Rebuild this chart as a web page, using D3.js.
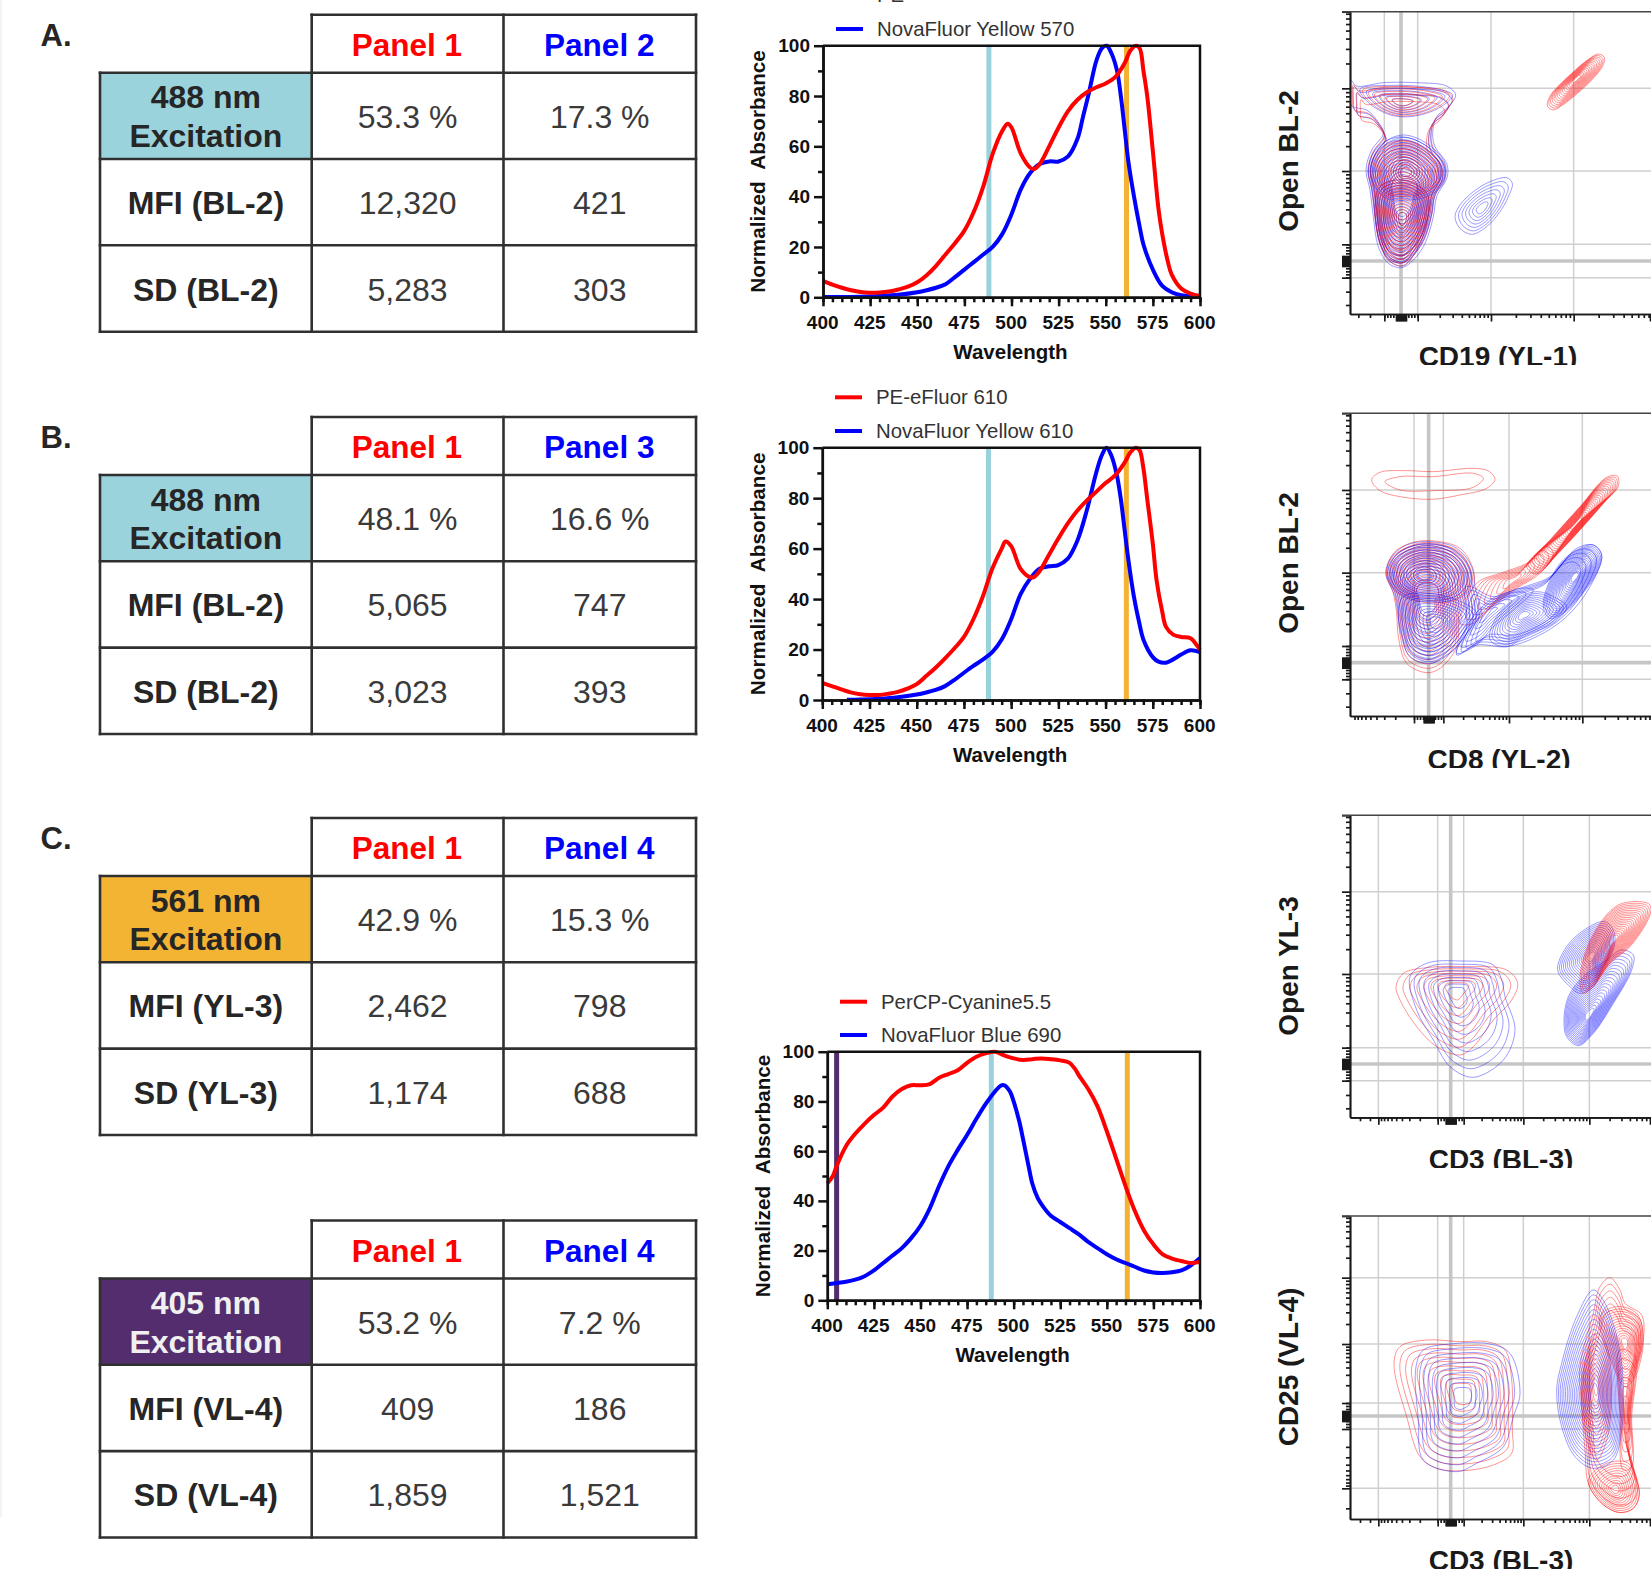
<!DOCTYPE html>
<html>
<head>
<meta charset="utf-8">
<script src="https://cdn.jsdelivr.net/npm/d3@7"></script>
<style>
  html, body { margin: 0; padding: 0; background: #fff; }
  svg { display: block; font-family: "Liberation Sans", Arial, sans-serif; }
</style>
</head>
<body>
<div id="chart"></div>
<script>
// Table contents
const tableLetters = ["A.", "B.", "C.", ""];
const tablePanels = [["Panel 1", "Panel 2"], ["Panel 1", "Panel 3"], ["Panel 1", "Panel 4"], ["Panel 1", "Panel 4"]];
const tableLasers = ["488 nm", "488 nm", "561 nm", "405 nm"];
const tableChannels = ["BL-2", "BL-2", "YL-3", "VL-4"];
const tablePercent = [["53.3 %", "17.3 %"], ["48.1 %", "16.6 %"], ["42.9 %", "15.3 %"], ["53.2 %", "7.2 %"]];
const tableMfi = [["12,320", "421"], ["5,065", "747"], ["2,462", "798"], ["409", "186"]];
const tableSd = [["5,283", "303"], ["3,023", "393"], ["1,174", "688"], ["1,859", "1,521"]];

// Absorbance spectra: wavelength + value arrays
const peWave = [400,405,410,415,420,425,430,435,440,445,450,455,460,465,470,475,480,485,490,495,498,500,505,510,512,515,520,525,530,535,540,545,550,555,560,563,566,568,570,572,575,578,580,583,585,590,595,600];
const peAbs = [6.5,5,3.8,2.8,2.1,1.8,1.9,2.3,3.1,4.2,6,8.8,12.5,17,21.5,26.5,34,44,57,66,69,67.5,57,51.5,51,53,60,67.5,74,78.5,81.5,83.5,85,87.5,93,98,100,99,90,80,58,35,25,14,9,3.5,1.5,0.5];
const nova570Wave = [400,420,430,440,450,455,460,465,470,475,480,485,490,495,500,505,510,515,520,525,530,535,538,541,545,548,550.5,553,556,558,560,562,565,568,570,575,580,585,590,595,600];
const nova570Abs = [0.1,0.2,0.5,1,2,2.8,3.8,5.2,8,11,14,17,20,25,33,43,49.5,53,54,54,56,63,72,81,94,99,100,97,90,80,67,54,40,28,21,11,4.5,2,0.8,0.3,0.1];

const pe610Wave = [400,405,410,415,420,425,430,435,440,445,450,455,460,465,470,475,480,485,490,495,497,500,505,510,512,515,520,525,530,535,540,545,550,555,560,563,566,568,570,572,575,577,580,582,586,590,595,598,600];
const pe610Abs = [6.8,5.5,4.2,3,2.3,2,2,2.5,3.2,4.5,6.3,9.5,12.8,16.5,20.5,25,32,41,52,60,62.8,61,52,48.7,48.7,51,57.5,64,70,75,79,82.5,86,89,94,98,100,99,92,80,62,47.5,35,29,25.8,25,24.5,22,20];
const nova610Wave = [413,420,430,440,450,455,460,465,470,475,480,485,490,495,500,505,510,515,520,525,530,535,540,545,548,550.5,553,556,558,560,562,565,568,570,575,578,582,586,590,595,600];
const nova610Abs = [0.1,0.2,0.5,1.1,2.2,3,4,5.5,8,10.8,13.5,16,19,24,32,42,48,52,53,53.5,56,63,75,90,97,100,97,89,80,68,56,41,30,24,17,15.2,14.8,16.2,18,19.7,19];

const percpWave = [400,403,405,410,415,420,425,430,435,440,445,450,455,460,465,470,475,480,485,490,495,500,505,510,515,520,525,530,533,535,540,545,550,555,560,565,570,575,580,585,590,595,600];
const percpAbs = [47,50,54,62,67,71,74.5,77.5,82,85,86.5,86.5,87,89.5,91,92.5,95.5,98,99.3,100,98.5,97.3,96.7,97,97.3,97,96.5,95.5,93,90.5,85,78,68,57,46,36,28,22.5,18.5,16.8,15.8,15,15.5];
const nova690Wave = [400,410,415,420,425,430,435,440,445,450,455,460,465,470,475,480,485,490,493,495,498,500,503,505,508,510,513,516,520,525,530,535,540,545,550,555,560,565,570,575,580,585,590,595,600];
const nova690Abs = [6.5,7.5,8.3,9.7,12,15,18,21,25,30,37,46,54,60.5,66.5,73,79,84,86.3,86.5,84,80,72,65,54,47,41,37.5,34,31.5,29,26.5,23.5,21,18.5,16.5,15,13.5,12,11.2,11,11.3,12,14,17];

const laserLines = [488, 561, 405];
const laserColors = ["#9ad2dc", "#f3b233", "#532d6d"];
const wavelengthTicks = d3.range(400, 601, 25);
const wavelengthMinor = d3.range(400, 601, 5);
const absorbanceTicks = d3.range(0, 101, 20);
const absorbanceMinor = d3.range(10, 100, 20);

// Flow plot outer outlines, in channel units of each plot's own scale
const aRedDiag = [[862,318],[870,288],[895,258],[935,220],[982,180],[1015,162],[1033,172],[1028,198],[995,240],[950,282],[908,315],[880,330]];
const aBlueSide = [[585,650],[600,615],[640,575],[690,545],[740,533],[757,550],[745,590],[720,635],[680,680],[635,703],[600,685]];
const aSilhouette = [[272,240],[290,258],[370,248],[470,248],[560,258],[587,285],[565,320],[530,350],[518,400],[525,440],[560,490],[562,530],[530,590],[520,650],[495,730],[460,780],[425,803],[385,790],[355,740],[340,650],[330,570],[318,510],[335,450],[370,400],[350,360],[320,330],[275,318],[270,280]];
const aTopBand = [[300,268],[400,256],[520,265],[578,285],[540,322],[470,347],[400,347],[330,312]];
const aBody = [[318,510],[335,450],[380,410],[430,400],[490,420],[555,480],[562,530],[530,590],[520,650],[495,730],[460,780],[425,803],[385,790],[355,740],[340,650],[330,570]];
const aBodyUpper = [[330,510],[370,430],[430,405],[500,430],[555,490],[550,550],[500,590],[440,600],[370,590]];
const aBodyLower = [[345,620],[360,560],[430,540],[500,580],[505,640],[480,730],[430,797],[385,780],[355,710]];

const bBandOuter = [[335,240],[360,217],[440,212],[520,215],[640,205],[685,213],[705,238],[680,265],[600,285],[515,298],[420,290],[360,272]];
const bBandInner = [[375,245],[420,230],[520,230],[640,220],[670,235],[640,262],[520,272],[420,270]];
const bRedDiag = [[800,500],[870,420],[960,320],[1040,232],[1072,228],[1075,258],[1035,305],[960,390],[890,465],[830,522]];
const bRedTail = [[650,550],[720,520],[800,490],[860,440],[880,460],[840,520],[770,565],[690,625],[640,670],[600,670]];
const bBlueRight = [[870,540],[910,480],[960,445],[1000,435],[1025,465],[1010,520],[960,590],[910,640],[870,655],[850,620]];
const bBlueMid = [[710,650],[760,600],[830,575],[880,590],[920,620],[880,670],[800,705],[740,740],[690,720]];
const bBlueEnvelope = [[590,765],[650,735],[740,740],[830,710],[920,650],[990,560],[1025,465],[1000,435],[950,445],[870,530],[780,565],[690,600],[620,680]];
const bMainUpper = [[377,520],[395,470],[440,440],[500,425],[570,440],[620,480],[640,540],[610,590],[540,610],[450,600],[400,570]];
const bBlueMain = [[377,520],[395,470],[440,435],[510,425],[590,445],[635,500],[645,560],[660,640],[620,700],[580,750],[510,785],[450,760],[420,680],[405,590]];
const bRedMain = [[380,520],[400,460],[450,430],[510,422],[600,445],[640,510],[640,560],[600,620],[590,740],[540,805],[500,818],[440,790],[415,710],[410,640],[400,580]];
const bMainLower = [[415,640],[430,590],[500,580],[590,600],[650,640],[620,700],[570,760],[510,790],[450,770],[425,710]];
const bBlueJoin = [[620,560],[700,590],[780,565],[820,570],[760,630],[700,680],[650,735],[590,760],[620,680]];

const cRedLeft = [[408,560],[430,520],[500,503],[620,500],[740,510],[773,550],[755,600],[700,660],[640,740],[600,765],[530,740],[470,680],[420,600]];
const cBlueLeft = [[450,530],[500,490],[600,483],[700,495],[725,540],[735,590],[765,690],[730,780],[640,832],[570,800],[520,720],[470,630]];
const cBlueUpper = [[893,510],[920,440],[980,385],[1035,365],[1062,395],[1060,450],[1030,500],[1000,560],[960,580],[930,560]];
const cBlueLower = [[912,660],[925,590],[970,530],[1040,480],[1085,450],[1120,465],[1115,510],[1060,610],[1000,700],[955,737],[920,710]];
const cRedRight = [[960,545],[975,460],[1020,370],[1075,315],[1140,305],[1170,315],[1170,345],[1110,440],[1050,490],[1000,560],[970,580]];

const dRedLeft = [[402,490],[420,440],[500,420],[600,425],[680,425],[735,450],[755,540],[757,690],[755,760],[700,795],[610,812],[530,805],[480,770],[440,650]];
const dBlueLeft = [[468,500],[490,450],[570,432],[690,432],[750,460],[780,580],[760,650],[730,740],[650,790],[590,815],[490,780],[475,660]];
const dBlueRight = [[890,570],[905,490],[950,350],[1000,270],[1035,310],[1075,430],[1090,560],[1085,690],[1060,780],[1000,805],[945,770],[905,680]];
const dRedRight = [[960,500],[1000,340],[1020,260],[1050,233],[1080,270],[1095,310],[1145,345],[1150,420],[1125,520],[1110,650],[1110,780],[1138,880],[1120,925],[1075,937],[1020,905],[985,850],[975,750],[965,620]];
const dRedUpper = [[1020,350],[1070,320],[1130,340],[1150,420],[1125,530],[1095,560],[1060,500]];
const dRedSide = [[1080,450],[1125,470],[1115,650],[1115,800],[1090,810],[1080,650]];
const dRedBottom = [[985,840],[1040,790],[1105,790],[1138,880],[1120,925],[1075,937],[1020,905]];
const dRedCore = [[965,560],[990,430],[1010,400],[1040,440],[1055,560],[1040,720],[1010,780],[980,720]];

// Tick helper for the log stretches of the flow axes
function logTicks(a, b) {
  return d3.range(2, 10).map(k => a + (b - a) * Math.log10(k));
}

const width = 1651, height = 1572;
const RED = "#ff0000", BLUE = "#1414ff";

const svg = d3.select("#chart").append("svg")
  .attr("width", width)
  .attr("height", height)
  .attr("viewBox", `0 0 ${width} ${height}`);

// faint stripe along the left edge of the figure
svg.append("rect").attr("x", 0).attr("y", 0).attr("width", 2).attr("height", 1517).attr("fill", "#f3f3f3");

// ---- tables ----
const tableX = [100, 311.7, 503.5, 696];
const tableTops = [14.7, 417, 818, 1220.5];
const laserFill = ["#9bd3dd", "#9bd3dd", "#f3b434", "#532d6d"];
const laserText = ["#262626", "#262626", "#262626", "#f0f0f0"];

function drawTable(i) {
  const g = svg.append("g").attr("class", "table");
  const top = tableTops[i];
  const rowY = [top, top + 58, top + 144.3, top + 230.6, top + 317];
  const ink = "#303030";

  g.append("rect").attr("x", tableX[0]).attr("y", rowY[1])
    .attr("width", tableX[1] - tableX[0]).attr("height", rowY[2] - rowY[1])
    .attr("fill", laserFill[i]);

  // grid lines
  const lines = [
    [tableX[1], rowY[0], tableX[3], rowY[0]],
    [tableX[0], rowY[1], tableX[3], rowY[1]],
    [tableX[0], rowY[2], tableX[3], rowY[2]],
    [tableX[0], rowY[3], tableX[3], rowY[3]],
    [tableX[0], rowY[4], tableX[3], rowY[4]],
    [tableX[0], rowY[1], tableX[0], rowY[4]],
    [tableX[1], rowY[0], tableX[1], rowY[4]],
    [tableX[2], rowY[0], tableX[2], rowY[4]],
    [tableX[3], rowY[0], tableX[3], rowY[4]]
  ];
  g.selectAll("line").data(lines).enter().append("line")
    .attr("x1", d => d[0]).attr("y1", d => d[1])
    .attr("x2", d => d[2]).attr("y2", d => d[3])
    .attr("stroke", ink).attr("stroke-width", 2.6).attr("stroke-linecap", "square");

  const cell = (txt, cx, cy, bold, fill, size) => g.append("text")
    .attr("x", cx).attr("y", cy + 12)
    .attr("text-anchor", "middle")
    .attr("font-size", size || 32)
    .attr("font-weight", bold ? "bold" : "normal")
    .attr("fill", fill)
    .text(txt);

  const mid0 = (tableX[0] + tableX[1]) / 2;
  const mid1 = (tableX[1] + tableX[2]) / 2;
  const mid2 = (tableX[2] + tableX[3]) / 2;
  const rowMid = k => (rowY[k] + rowY[k + 1]) / 2;

  cell(tablePanels[i][0], mid1 - 0.8, rowMid(0), true, RED, 31.5);
  cell(tablePanels[i][1], mid2 - 0.5, rowMid(0), true, "#0000ff", 31.5);
  cell(tableLasers[i], mid0, rowMid(1) - 19.5, true, laserText[i]);
  cell("Excitation", mid0, rowMid(1) + 19, true, laserText[i]);
  cell(`MFI (${tableChannels[i]})`, mid0, rowMid(2), true, "#262626");
  cell(`SD (${tableChannels[i]})`, mid0, rowMid(3), true, "#262626");
  [tablePercent[i], tableMfi[i], tableSd[i]].forEach((vals, k) => {
    cell(vals[0], mid1, rowMid(k + 1), false, "#3a3a3a");
    cell(vals[1], mid2, rowMid(k + 1), false, "#3a3a3a");
  });

  if (tableLetters[i]) {
    g.append("text").attr("x", 40.5).attr("y", top + 31)
      .attr("font-size", 31).attr("font-weight", "bold").attr("fill", "#262626")
      .text(tableLetters[i]);
  }
}
tableLetters.forEach((d, i) => drawTable(i));

// ---- absorbance charts ----
function drawSpectrum(cfg) {
  const x = d3.scaleLinear().domain([400, 600]).range([cfg.left, cfg.right]);
  const y = d3.scaleLinear().domain([0, 100]).range([cfg.bottom, cfg.top]);
  const g = svg.append("g").attr("class", "spectrum");

  g.selectAll(".laser").data(cfg.lasers).enter().append("rect")
    .attr("class", "laser")
    .attr("x", d => x(laserLines[d]) - 2.5)
    .attr("y", cfg.top)
    .attr("width", 5)
    .attr("height", cfg.bottom - cfg.top)
    .attr("fill", d => laserColors[d]);

  const line = d3.line().curve(d3.curveCatmullRom.alpha(0.5)).x(d => x(d[0])).y(d => y(d[1]));
  cfg.series.forEach(s => {
    g.append("path")
      .attr("d", line(d3.zip(s.wave, s.abs)))
      .attr("fill", "none")
      .attr("stroke", s.color === "red" ? RED : "#0000ff")
      .attr("stroke-width", 4);
  });

  // frame top/right
  g.append("path")
    .attr("d", d3.line()([[x(400), y(100)], [x(600), y(100)], [x(600), y(0)]]))
    .attr("fill", "none").attr("stroke", "#111").attr("stroke-width", 2.5);

  const styleAxis = sel => {
    sel.selectAll("path,line").attr("stroke", "#111").attr("stroke-width", 2.5);
    sel.selectAll("text").attr("font-size", 19).attr("font-weight", "bold")
      .attr("font-family", "Liberation Sans").attr("fill", "#111");
  };

  g.append("g").attr("transform", `translate(0,${cfg.bottom})`)
    .call(d3.axisBottom(x).tickValues(wavelengthMinor).tickSize(5).tickSizeOuter(0).tickFormat(""))
    .call(styleAxis);
  g.append("g").attr("transform", `translate(0,${cfg.bottom})`)
    .call(d3.axisBottom(x).tickValues(wavelengthTicks).tickSize(9).tickSizeOuter(0).tickPadding(9.5).tickFormat(d3.format("d")))
    .call(styleAxis)
    .selectAll("text").attr("dx", -0.8);
  g.append("g").attr("transform", `translate(${cfg.left},0)`)
    .call(d3.axisLeft(y).tickValues(absorbanceMinor).tickSize(5).tickSizeOuter(0).tickFormat(""))
    .call(styleAxis);
  g.append("g").attr("transform", `translate(${cfg.left},0)`)
    .call(d3.axisLeft(y).tickValues(absorbanceTicks).tickSize(9).tickSizeOuter(0).tickPadding(4).tickFormat(d3.format("d")))
    .call(styleAxis);

  g.append("text")
    .attr("x", (cfg.left + cfg.right) / 2 - 1)
    .attr("y", cfg.bottom + 62)
    .attr("text-anchor", "middle")
    .attr("font-size", 20.5).attr("font-weight", "bold").attr("fill", "#111")
    .text("Wavelength");

  g.append("text")
    .attr("transform", `translate(${cfg.titleX},${(cfg.top + cfg.bottom) / 2}) rotate(-90)`)
    .attr("text-anchor", "middle")
    .attr("font-size", 20.7).attr("font-weight", "bold").attr("fill", "#111")
    .text("Normalized\u00a0\u00a0Absorbance");

  // legend
  cfg.legend.forEach(l => {
    g.append("line")
      .attr("x1", cfg.legendX).attr("x2", cfg.legendX + 27)
      .attr("y1", l.y).attr("y2", l.y)
      .attr("stroke", l.color === "red" ? RED : "#0000ff").attr("stroke-width", 4);
    g.append("text")
      .attr("x", cfg.legendX + 41).attr("y", l.y + 7)
      .attr("font-size", 20.4).attr("fill", "#333")
      .text(l.name);
  });
}

drawSpectrum({
  left: 823, right: 1200, top: 45.7, bottom: 297.3, titleX: 765, legendX: 836,
  lasers: [0, 1],
  series: [{ wave: nova570Wave, abs: nova570Abs, color: "blue" }, { wave: peWave, abs: peAbs, color: "red" }],
  legend: [{ name: "PE", color: "red", y: -5 }, { name: "NovaFluor Yellow 570", color: "blue", y: 29 }]
});
drawSpectrum({
  left: 822.3, right: 1200, top: 447.7, bottom: 700, titleX: 765, legendX: 835,
  lasers: [0, 1],
  series: [{ wave: nova610Wave, abs: nova610Abs, color: "blue" }, { wave: pe610Wave, abs: pe610Abs, color: "red" }],
  legend: [{ name: "PE-eFluor 610", color: "red", y: 397.3 }, { name: "NovaFluor Yellow 610", color: "blue", y: 431 }]
});
drawSpectrum({
  left: 827.3, right: 1200, top: 1051.7, bottom: 1300.3, titleX: 770, legendX: 840,
  lasers: [0, 1, 2],
  series: [{ wave: nova690Wave, abs: nova690Abs, color: "blue" }, { wave: percpWave, abs: percpAbs, color: "red" }],
  legend: [{ name: "PerCP-Cyanine5.5", color: "red", y: 1001.7 }, { name: "NovaFluor Blue 690", color: "blue", y: 1035 }]
});

// ---- flow contour plots ----
function drawFlow(cfg, idx) {
  const x = d3.scaleLinear().domain([270, 1173]).range([1350, 1651]);
  const y = d3.scaleLinear().domain(cfg.yDomain).range([cfg.top, cfg.bottom]);
  const g = svg.append("g").attr("class", "flow");

  const clipId = "flow-clip-" + idx;
  g.append("clipPath").attr("id", clipId).append("rect")
    .attr("x", 1350).attr("y", cfg.top).attr("width", 301).attr("height", cfg.bottom - cfg.top);

  // grid
  const grid = g.append("g");
  grid.selectAll(".gx").data(cfg.gridX).enter().append("line")
    .attr("x1", d => x(d)).attr("x2", d => x(d)).attr("y1", cfg.top).attr("y2", cfg.bottom)
    .attr("stroke", "#cfcfcf").attr("stroke-width", 1.5);
  grid.selectAll(".gy").data(cfg.gridY).enter().append("line")
    .attr("y1", d => y(d)).attr("y2", d => y(d)).attr("x1", 1350).attr("x2", 1651)
    .attr("stroke", "#cfcfcf").attr("stroke-width", 1.5);
  grid.append("line").attr("x1", x(cfg.zeroX)).attr("x2", x(cfg.zeroX)).attr("y1", cfg.top).attr("y2", cfg.bottom)
    .attr("stroke", "#c6c6c6").attr("stroke-width", 3.6);
  grid.append("line").attr("y1", y(cfg.zeroY)).attr("y2", y(cfg.zeroY)).attr("x1", 1350).attr("x2", 1651)
    .attr("stroke", "#c6c6c6").attr("stroke-width", 3.6);

  // contours: each family is an outline drawn at decreasing levels toward its centre
  const ring = d3.line().curve(d3.curveCatmullRomClosed).x(d => x(d[0])).y(d => y(d[1]));
  const contours = g.append("g").attr("clip-path", `url(#${clipId})`).attr("fill", "none");
  cfg.families.forEach(f => {
    const centre = f.centre || [d3.mean(f.outline, d => d[0]), d3.mean(f.outline, d => d[1])];
    const start = f.start || 1;
    const levels = f.rings || 1;
    const depth = f.depth || 0.92;
    d3.range(levels).forEach(k => {
      const s = start * (1 - k / levels * depth);
      contours.append("path")
        .attr("d", ring(f.outline.map(p => [centre[0] + (p[0] - centre[0]) * s, centre[1] + (p[1] - centre[1]) * s])))
        .attr("stroke", f.color === "red" ? RED : BLUE)
        .attr("stroke-width", 1)
        .attr("stroke-opacity", 0.42);
    });
  });

  // frame and ticks
  const styleAxis = sel => {
    sel.selectAll("path,line").attr("stroke", "#1a1a1a").attr("stroke-width", 1.7);
  };
  const inX = v => v >= 270 && v <= 1173;
  const inY = v => v >= cfg.yDomain[0] && v <= cfg.yDomain[1];
  const blobX = d3.range(cfg.zeroX - 15, cfg.zeroX + 16, 3);
  const blobY = d3.range(cfg.zeroY - 15, cfg.zeroY + 16, 3);
  g.append("g").attr("transform", `translate(0,${cfg.bottom})`)
    .call(d3.axisBottom(x).tickValues(cfg.minorX.filter(inX)).tickSize(4).tickSizeOuter(0).tickFormat(""))
    .call(styleAxis);
  g.append("g").attr("transform", `translate(0,${cfg.bottom})`)
    .call(d3.axisBottom(x).tickValues(cfg.majorX.concat(blobX)).tickSize(7.5).tickSizeOuter(0).tickFormat(""))
    .call(styleAxis);
  g.append("g").attr("transform", "translate(1350,0)")
    .call(d3.axisLeft(y).tickValues(cfg.minorY.filter(inY)).tickSize(4).tickSizeOuter(0).tickFormat(""))
    .call(styleAxis);
  g.append("g").attr("transform", "translate(1350,0)")
    .call(d3.axisLeft(y).tickValues(cfg.majorY.concat(blobY)).tickSize(8).tickSizeOuter(0).tickFormat(""))
    .call(styleAxis);
  g.append("line").attr("x1", 1342).attr("x2", 1651).attr("y1", cfg.top).attr("y2", cfg.top)
    .attr("stroke", "#444").attr("stroke-width", 1.5);

  // labels
  g.append("text")
    .attr("transform", `translate(1298,${cfg.yLabelY}) rotate(-90)`)
    .attr("text-anchor", "middle")
    .attr("font-size", 28).attr("font-weight", "bold").attr("fill", "#1a1a1a")
    .text(cfg.yLabel);

  const labelClip = "flow-label-clip-" + idx;
  g.append("clipPath").attr("id", labelClip).append("rect")
    .attr("x", 1380).attr("y", cfg.labelClip - 40).attr("width", 240).attr("height", 41);
  g.append("text")
    .attr("clip-path", `url(#${labelClip})`)
    .attr("x", cfg.xLabelX).attr("y", cfg.labelClip + 2)
    .attr("text-anchor", "middle")
    .attr("font-size", 28).attr("font-weight", "bold").attr("fill", "#1a1a1a")
    .text(cfg.xLabel);
}

drawFlow({
  top: 11.7, bottom: 314, yDomain: [35, 942],
  gridX: [373, 473, 693, 941], zeroX: 423,
  gridY: [265, 513, 733, 833], zeroY: 783,
  majorX: [373, 473, 693, 941, 1170],
  minorX: [295, 330].concat(d3.range(373, 474, 9), logTicks(473, 693), logTicks(693, 941), logTicks(941, 1190)),
  majorY: [35, 265, 513, 733, 833],
  minorY: logTicks(265, 17).concat(logTicks(513, 265), logTicks(733, 513), d3.range(733, 834, 9), [875, 915]),
  yLabel: "Open BL-2", yLabelY: 161, xLabel: "CD19 (YL-1)", xLabelX: 1498, labelClip: 364,
  families: [
    { outline: aSilhouette, centre: [425, 530], color: "blue", rings: 3, depth: 0.2 },
    { outline: aSilhouette, centre: [425, 530], color: "red", rings: 3, depth: 0.24, start: 0.95 },
    { outline: aTopBand, centre: [425, 308], color: "blue", rings: 6 },
    { outline: aTopBand, centre: [425, 308], color: "red", rings: 6, start: 0.94 },
    { outline: aBody, centre: [430, 580], color: "blue", rings: 14, depth: 0.72, start: 0.94 },
    { outline: aBody, centre: [430, 590], color: "red", rings: 10, depth: 0.7, start: 0.88 },
    { outline: aBodyUpper, centre: [437, 518], color: "blue", rings: 14 },
    { outline: aBodyUpper, centre: [437, 518], color: "red", rings: 11, start: 0.85 },
    { outline: aBodyLower, centre: [428, 655], color: "blue", rings: 12 },
    { outline: aBodyLower, centre: [428, 655], color: "red", rings: 13 },
    { outline: aBlueSide, centre: [665, 625], color: "blue", rings: 7 },
    { outline: aRedDiag, centre: [950, 235], color: "red", rings: 16 }
  ]
}, 0);

drawFlow({
  top: 413.3, bottom: 716, yDomain: [40, 948],
  gridX: [462, 550, 747, 967], zeroX: 506,
  gridY: [270, 518, 738, 838], zeroY: 788,
  majorX: [462, 550, 747, 967],
  minorX: logTicks(462, 275).concat(d3.range(462, 551, 9), logTicks(550, 747), logTicks(747, 967), logTicks(967, 1190)),
  majorY: [40, 270, 518, 738, 838],
  minorY: logTicks(270, 22).concat(logTicks(518, 270), logTicks(738, 518), d3.range(738, 839, 9), [880, 920]),
  yLabel: "Open BL-2", yLabelY: 563, xLabel: "CD8 (YL-2)", xLabelX: 1499, labelClip: 767,
  families: [
    { outline: bBandOuter, color: "red", rings: 1 },
    { outline: bBandInner, color: "red", rings: 1 },
    { outline: bRedDiag, centre: [950, 370], color: "red", rings: 24 },
    { outline: bRedTail, centre: [760, 540], color: "red", rings: 8 },
    { outline: bBlueEnvelope, centre: [800, 620], color: "blue", rings: 5, depth: 0.35 },
    { outline: bBlueRight, centre: [945, 530], color: "blue", rings: 20 },
    { outline: bBlueMid, centre: [790, 645], color: "blue", rings: 12 },
    { outline: bBlueJoin, centre: [680, 640], color: "blue", rings: 6 },
    { outline: bRedMain, centre: [500, 590], color: "red", rings: 14, depth: 0.8 },
    { outline: bBlueMain, centre: [500, 590], color: "blue", rings: 16, depth: 0.8 },
    { outline: bMainUpper, centre: [490, 528], color: "red", rings: 10, start: 0.98 },
    { outline: bMainUpper, centre: [490, 528], color: "blue", rings: 14, start: 0.95 },
    { outline: bMainLower, centre: [530, 665], color: "blue", rings: 10 }
  ]
}, 1);

const cd3MajorX = [355, 533, 611, 790, 988, 1170];
const cd3MinorX = [300, 330].concat(logTicks(533, 355), d3.range(533, 612, 9), logTicks(611, 790), logTicks(790, 988), logTicks(988, 1190));

drawFlow({
  top: 815.3, bottom: 1117.3, yDomain: [46, 952],
  gridX: [355, 533, 611, 790, 988], zeroX: 572,
  gridY: [275, 522, 743, 842], zeroY: 792,
  majorX: cd3MajorX, minorX: cd3MinorX,
  majorY: [46, 275, 522, 743, 842],
  minorY: logTicks(275, 27).concat(logTicks(522, 275), logTicks(743, 522), d3.range(743, 843, 9), [885, 925]),
  yLabel: "Open YL-3", yLabelY: 966, xLabel: "CD3 (BL-3)", xLabelX: 1501, labelClip: 1167,
  families: [
    { outline: cRedLeft, centre: [590, 560], color: "red", rings: 8 },
    { outline: cBlueLeft, centre: [590, 580], color: "blue", rings: 9 },
    { outline: cBlueUpper, centre: [995, 470], color: "blue", rings: 16 },
    { outline: cBlueLower, centre: [985, 650], color: "blue", rings: 20 },
    { outline: cRedRight, centre: [1060, 420], color: "red", rings: 20 }
  ]
}, 2);

drawFlow({
  top: 1216, bottom: 1519, yDomain: [48, 957],
  gridX: [355, 533, 611, 790, 988], zeroX: 572,
  gridY: [233, 432, 609, 687, 865], zeroY: 648,
  majorX: cd3MajorX, minorX: cd3MinorX,
  majorY: [48, 233, 432, 609, 687, 865],
  minorY: logTicks(233, 34).concat(logTicks(432, 233), logTicks(609, 432), d3.range(609, 688, 9), logTicks(687, 865), [925]),
  yLabel: "CD25 (VL-4)", yLabelY: 1367, xLabel: "CD3 (BL-3)", xLabelX: 1501, labelClip: 1568,
  families: [
    { outline: dRedLeft, centre: [610, 575], color: "red", rings: 11 },
    { outline: dBlueLeft, centre: [605, 590], color: "blue", rings: 10 },
    { outline: dRedRight, centre: [1060, 570], color: "red", rings: 6, depth: 0.35 },
    { outline: dRedUpper, centre: [1095, 430], color: "red", rings: 14 },
    { outline: dRedSide, centre: [1098, 630], color: "red", rings: 6 },
    { outline: dRedBottom, centre: [1065, 870], color: "red", rings: 11 },
    { outline: dRedCore, centre: [1008, 550], color: "red", rings: 11 },
    { outline: dBlueRight, centre: [1005, 590], color: "blue", rings: 20 }
  ]
}, 3);
</script>
</body>
</html>
